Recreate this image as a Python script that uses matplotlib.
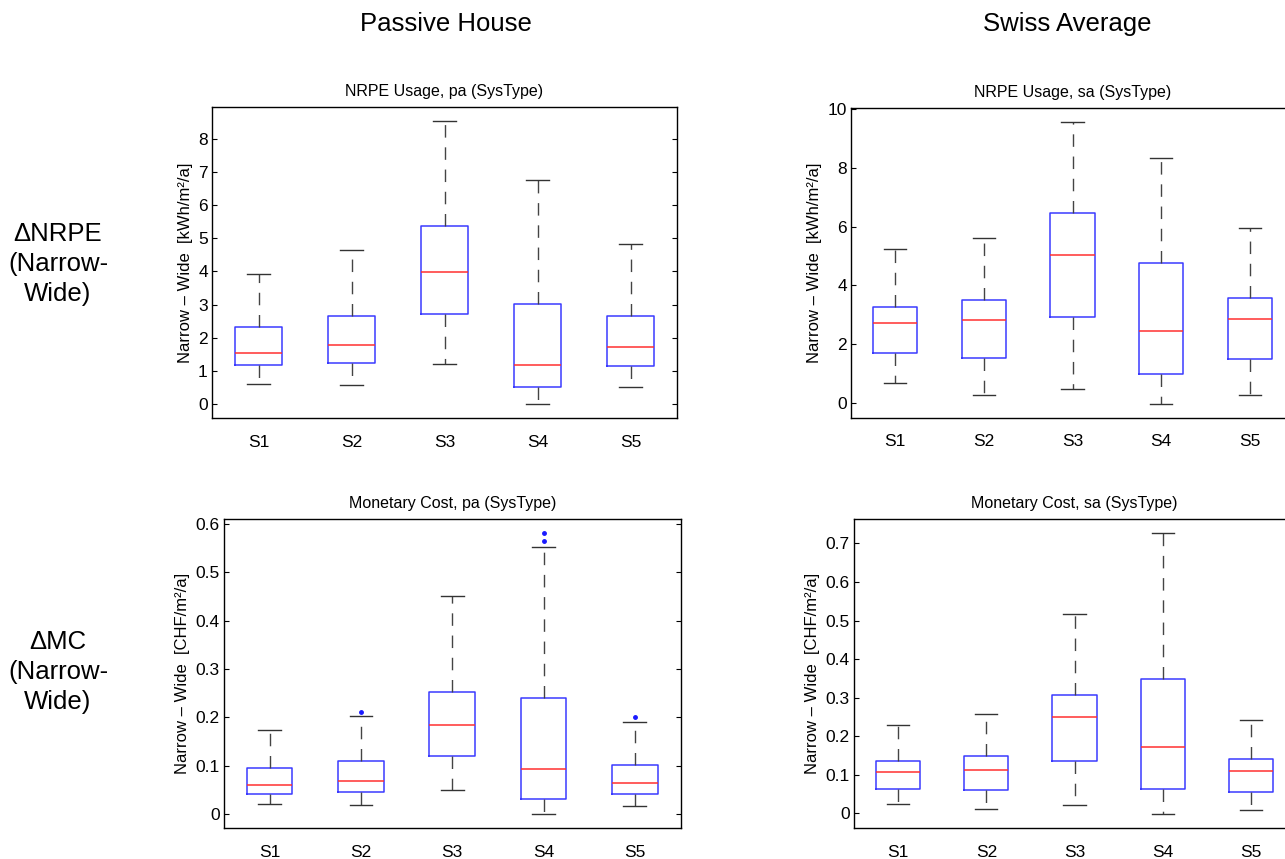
import matplotlib.pyplot as plt

plt.rcParams['font.family'] = ['Liberation Sans', 'DejaVu Sans']

categories = ['S1', 'S2', 'S3', 'S4', 'S5']

# NRPE usage, passive house
nrpe_pa_lo = [0.60, 0.56, 1.19, 0.00, 0.52]
nrpe_pa_q1 = [1.18, 1.24, 2.70, 0.52, 1.15]
nrpe_pa_med = [1.55, 1.77, 3.98, 1.18, 1.72]
nrpe_pa_q3 = [2.33, 2.66, 5.36, 3.03, 2.66]
nrpe_pa_hi = [3.92, 4.65, 8.54, 6.77, 4.82]
nrpe_pa_fl = [[], [], [], [], []]

# NRPE usage, swiss average
nrpe_sa_lo = [0.66, 0.26, 0.48, -0.03, 0.25]
nrpe_sa_q1 = [1.70, 1.54, 2.94, 0.98, 1.49]
nrpe_sa_med = [2.72, 2.81, 5.02, 2.45, 2.84]
nrpe_sa_q3 = [3.25, 3.49, 6.48, 4.77, 3.58]
nrpe_sa_hi = [5.23, 5.63, 9.58, 8.35, 5.95]
nrpe_sa_fl = [[], [], [], [], []]

# monetary cost, passive house
mc_pa_lo = [0.020, 0.018, 0.050, 0.000, 0.017]
mc_pa_q1 = [0.042, 0.046, 0.119, 0.030, 0.041]
mc_pa_med = [0.059, 0.069, 0.184, 0.092, 0.064]
mc_pa_q3 = [0.096, 0.109, 0.253, 0.240, 0.101]
mc_pa_hi = [0.174, 0.202, 0.451, 0.552, 0.190]
mc_pa_fl = [[], [0.211], [], [0.565, 0.581], [0.200]]

# monetary cost, swiss average
mc_sa_lo = [0.024, 0.010, 0.021, -0.002, 0.009]
mc_sa_q1 = [0.063, 0.059, 0.136, 0.062, 0.056]
mc_sa_med = [0.108, 0.112, 0.249, 0.172, 0.109]
mc_sa_q3 = [0.136, 0.148, 0.306, 0.347, 0.140]
mc_sa_hi = [0.230, 0.257, 0.517, 0.727, 0.242]
mc_sa_fl = [[], [], [], [], []]


def make_stats(lo, q1, med, q3, hi, fl):
    return [dict(label=c, whislo=a, q1=b, med=m, q3=d, whishi=e, fliers=f)
            for c, a, b, m, d, e, f in zip(categories, lo, q1, med, q3, hi, fl)]


def draw(ax, stats, title, unit):
    ax.bxp(stats, widths=0.5, showfliers=True,
           boxprops=dict(color='#3a3aff', linewidth=1.1),
           medianprops=dict(color='#ff3030', linewidth=1.1),
           whiskerprops=dict(color='#444444', linewidth=1.0, linestyle=(0, (9, 7))),
           capprops=dict(color='#333333', linewidth=1.0),
           flierprops=dict(marker='.', markerfacecolor='#1a1aff',
                           markeredgecolor='#1a1aff', markersize=5, linestyle='none'))
    # matlab style limits: 5% padding around all data
    lo = min(min(s['whislo'] for s in stats),
             min([min(s['fliers']) for s in stats if len(s['fliers'])] or [1e9]))
    hi = max(max(s['whishi'] for s in stats),
             max([max(s['fliers']) for s in stats if len(s['fliers'])] or [-1e9]))
    pad = 0.05 * (hi - lo)
    ax.set_ylim(lo - pad, hi + pad)
    ax.set_xlim(0.5, 5.5)
    ax.set_title(title, fontsize=11.5, pad=8)
    ax.set_ylabel('Narrow – Wide  [' + unit + ']', fontsize=12)
    ax.tick_params(axis='y', direction='in', right=True, length=3.5, labelsize=12.5, pad=3)
    ax.tick_params(axis='x', length=0, pad=12, labelsize=12.5)
    for sp in ax.spines.values():
        sp.set_linewidth(1.0)


fig = plt.figure(figsize=(12.85, 8.59), dpi=100)

ax1 = fig.add_axes([0.165, 0.5134, 0.3619, 0.3621])
ax2 = fig.add_axes([0.6623, 0.5137, 0.3447, 0.3610])
ax3 = fig.add_axes([0.1743, 0.0361, 0.3553, 0.3597])
ax4 = fig.add_axes([0.6646, 0.0361, 0.3432, 0.3597])

draw(ax1, make_stats(nrpe_pa_lo, nrpe_pa_q1, nrpe_pa_med, nrpe_pa_q3, nrpe_pa_hi, nrpe_pa_fl),
     'NRPE Usage, pa (SysType)', 'kWh/m²/a')
draw(ax2, make_stats(nrpe_sa_lo, nrpe_sa_q1, nrpe_sa_med, nrpe_sa_q3, nrpe_sa_hi, nrpe_sa_fl),
     'NRPE Usage, sa (SysType)', 'kWh/m²/a')
draw(ax3, make_stats(mc_pa_lo, mc_pa_q1, mc_pa_med, mc_pa_q3, mc_pa_hi, mc_pa_fl),
     'Monetary Cost, pa (SysType)', 'CHF/m²/a')
draw(ax4, make_stats(mc_sa_lo, mc_sa_q1, mc_sa_med, mc_sa_q3, mc_sa_hi, mc_sa_fl),
     'Monetary Cost, sa (SysType)', 'CHF/m²/a')

ax1.set_yticks(range(0, 9))
ax2.set_yticks(range(0, 11, 2))
ax3.set_yticks([0, 0.1, 0.2, 0.3, 0.4, 0.5, 0.6])
ax3.set_yticklabels(['0', '0.1', '0.2', '0.3', '0.4', '0.5', '0.6'])
ax4.set_yticks([0, 0.1, 0.2, 0.3, 0.4, 0.5, 0.6, 0.7])
ax4.set_yticklabels(['0', '0.1', '0.2', '0.3', '0.4', '0.5', '0.6', '0.7'])

fig.text(446 / 1285, 1 - 24 / 859, 'Passive House', fontsize=18.5, ha='center', va='center')
fig.text(1067 / 1285, 1 - 24 / 859, 'Swiss Average', fontsize=18.5, ha='center', va='center')
fig.text(58 / 1285, 1 - 264 / 859, 'ΔNRPE\n(Narrow-\nWide)', fontsize=18.5,
         ha='center', va='center', multialignment='center', linespacing=1.3)
fig.text(58 / 1285, 1 - 672 / 859, 'ΔMC\n(Narrow-\nWide)', fontsize=18.5,
         ha='center', va='center', multialignment='center', linespacing=1.3)

fig.savefig('out.png', dpi=100)
